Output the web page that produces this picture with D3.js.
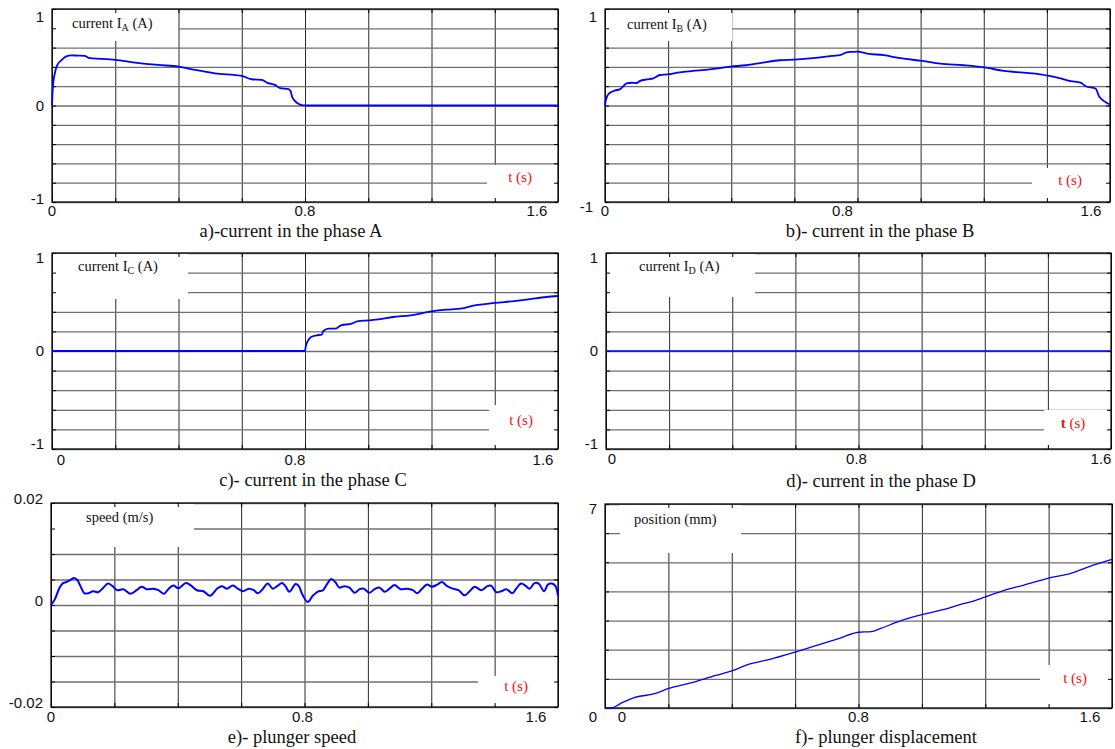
<!DOCTYPE html>
<html>
<head>
<meta charset="utf-8">
<script src="https://cdn.jsdelivr.net/npm/d3@7"></script>
<style>
    body { margin: 0; background: #ffffff; }
    svg { display: block; }
</style>
</head>
<body>
<script>
// 横轴 (时间, s) 网格与刻度标签
const xGrid = [0, 0.2, 0.4, 0.6, 0.8, 1.0, 1.2, 1.4, 1.6];
const xTickLabels = ['0', '0.8', '1.6'];

// 纵轴网格
const currentGrid = [-1, -0.8, -0.6, -0.4, -0.2, 0, 0.2, 0.4, 0.6, 0.8, 1];
const speedGrid = [-0.02, -0.015, -0.01, -0.005, 0, 0.005, 0.01, 0.015, 0.02];
const positionGrid = [0, 1, 2, 3, 4, 5, 6, 7];

// 各相电流 [t, I]
const currentA = [[0, 0], [0.001, 0.09], [0.003, 0.2], [0.008, 0.32], [0.017, 0.42], [0.03, 0.47],
    [0.045, 0.51], [0.061, 0.52], [0.082, 0.517], [0.103, 0.514], [0.119, 0.49], [0.156, 0.483],
    [0.2, 0.472], [0.262, 0.445], [0.336, 0.42], [0.4, 0.403], [0.452, 0.369], [0.515, 0.334],
    [0.6, 0.307], [0.631, 0.272], [0.663, 0.266], [0.684, 0.231], [0.705, 0.214], [0.721, 0.179],
    [0.748, 0.169], [0.755, 0.145], [0.759, 0.093], [0.768, 0.048], [0.779, 0.017], [0.789, 0.003],
    [0.8, 0], [1.6, 0]];
const currentB = [[0, 0], [0.002, 0.045], [0.007, 0.097], [0.016, 0.132], [0.032, 0.156], [0.047, 0.167],
    [0.058, 0.2], [0.068, 0.229], [0.084, 0.236], [0.1, 0.233], [0.11, 0.253], [0.132, 0.27],
    [0.153, 0.281], [0.174, 0.316], [0.198, 0.323], [0.237, 0.344], [0.279, 0.358], [0.332, 0.375],
    [0.398, 0.403], [0.447, 0.417], [0.5, 0.444], [0.553, 0.469], [0.6, 0.476], [0.658, 0.49],
    [0.721, 0.514], [0.747, 0.524], [0.763, 0.549], [0.784, 0.556], [0.8, 0.559], [0.83, 0.538],
    [0.883, 0.521], [0.935, 0.49], [1.006, 0.462], [1.062, 0.434], [1.136, 0.417], [1.207, 0.392],
    [1.263, 0.358], [1.327, 0.34], [1.38, 0.323], [1.408, 0.306], [1.443, 0.281], [1.475, 0.253],
    [1.507, 0.236], [1.523, 0.2], [1.555, 0.174], [1.565, 0.097], [1.581, 0.045], [1.6, 0.01]];
const currentC = [[0, 0], [0.8, 0], [0.802, 0.041], [0.81, 0.109], [0.819, 0.143], [0.836, 0.16],
    [0.853, 0.167], [0.858, 0.204], [0.875, 0.228], [0.897, 0.228], [0.914, 0.262], [0.948, 0.279],
    [0.965, 0.303], [1.0, 0.313], [1.033, 0.323], [1.078, 0.347], [1.134, 0.364], [1.2, 0.405],
    [1.247, 0.422], [1.292, 0.432], [1.337, 0.466], [1.4, 0.49], [1.462, 0.51], [1.506, 0.527],
    [1.563, 0.551], [1.6, 0.561]];
const currentD = [[0, 0], [1.6, 0]];

// 柱塞速度 [t, m/s]
const speedData = [[0, 0], [0.012, 0.0011], [0.027, 0.0034], [0.038, 0.0043], [0.049, 0.0045],
    [0.061, 0.0049], [0.073, 0.0053], [0.083, 0.0049], [0.093, 0.0037], [0.105, 0.0023], [0.117, 0.0023],
    [0.133, 0.0027], [0.149, 0.0025], [0.165, 0.0034], [0.18, 0.0042], [0.194, 0.0037], [0.209, 0.0029],
    [0.228, 0.0031], [0.251, 0.0022], [0.27, 0.0029], [0.286, 0.0036], [0.302, 0.0031], [0.323, 0.0032],
    [0.339, 0.0029], [0.357, 0.0022], [0.37, 0.0031], [0.386, 0.0038], [0.402, 0.0033], [0.426, 0.0043],
    [0.444, 0.0037], [0.46, 0.0029], [0.481, 0.0027], [0.502, 0.0018], [0.524, 0.0032], [0.539, 0.0037],
    [0.555, 0.0032], [0.574, 0.0038], [0.592, 0.0031], [0.606, 0.0027], [0.624, 0.0032], [0.64, 0.0029],
    [0.653, 0.0023], [0.669, 0.0032], [0.684, 0.0042], [0.7, 0.0032], [0.716, 0.0038], [0.729, 0.0043],
    [0.74, 0.0037], [0.752, 0.0026], [0.772, 0.0041], [0.782, 0.0037], [0.793, 0.0021], [0.81, 0.0006],
    [0.826, 0.0018], [0.842, 0.0026], [0.858, 0.0029], [0.872, 0.0042], [0.884, 0.0051], [0.897, 0.0045],
    [0.91, 0.0034], [0.926, 0.0037], [0.942, 0.0034], [0.958, 0.0024], [0.974, 0.0031], [0.987, 0.0032],
    [1.005, 0.0024], [1.021, 0.0031], [1.037, 0.0034], [1.053, 0.0026], [1.068, 0.0032], [1.084, 0.0039],
    [1.103, 0.0031], [1.124, 0.0032], [1.142, 0.0029], [1.156, 0.0023], [1.171, 0.0032], [1.187, 0.004],
    [1.202, 0.0036], [1.219, 0.004], [1.234, 0.0045], [1.25, 0.0037], [1.268, 0.0032], [1.286, 0.0029],
    [1.305, 0.0019], [1.321, 0.0027], [1.337, 0.0036], [1.358, 0.0029], [1.377, 0.0037], [1.389, 0.0038],
    [1.405, 0.0025], [1.421, 0.0027], [1.437, 0.0031], [1.456, 0.0023], [1.468, 0.0032], [1.484, 0.0042],
    [1.497, 0.0038], [1.51, 0.0032], [1.526, 0.0043], [1.539, 0.0042], [1.556, 0.0027], [1.568, 0.004],
    [1.581, 0.0042], [1.592, 0.0037], [1.6, 0.0018]];

// 柱塞位移 [t, mm]
const positionData = [[0, 0], [0.02, 0], [0.05, 0.16], [0.09, 0.35], [0.16, 0.5], [0.2, 0.67],
    [0.27, 0.86], [0.35, 1.12], [0.4, 1.27], [0.45, 1.49], [0.52, 1.67], [0.6, 1.92], [0.66, 2.12],
    [0.74, 2.39], [0.8, 2.6], [0.84, 2.62], [0.87, 2.73], [0.93, 2.98], [1.0, 3.2], [1.07, 3.38],
    [1.12, 3.55], [1.16, 3.66], [1.2, 3.81], [1.26, 4.04], [1.32, 4.21], [1.4, 4.46], [1.47, 4.62],
    [1.53, 4.86], [1.6, 5.1]];

// 面板布局 (位置与样式)
const panels = [
    {
        data: currentA, yDomain: [-1, 1], yGrid: currentGrid, yLabels: ['1', '0', '-1'],
        left: 52, right: 558, top: 9, bottom: 202,
        yLabelDy: [8, 0, -3], yLabelDx: [0, 0, 0], xLabelY: 216, xLabelDx: [0, 0, -21],
        name: ['current I', 'A', ' (A)'], nameBox: [53, 10, 125, 31], namePos: [72, 28],
        tBox: [487, 165, 70, 36], tPos: [520, 182], tBold: false,
        caption: 'a)-current in the phase A', captionPos: [291, 237], width: 1.8
    },
    {
        data: currentB, yDomain: [-1, 1], yGrid: currentGrid, yLabels: ['1', '-1'],
        left: 605, right: 1110, top: 9, bottom: 202,
        yLabelDy: [8, 5], yLabelDx: [0, -4], xLabelY: 216, xLabelDx: [0, -15, -19],
        name: ['current I', 'B', ' (A)'], nameBox: [606, 10, 126, 31], namePos: [627, 29],
        tBox: [1032, 168, 77, 33], tPos: [1070, 185], tBold: false,
        caption: 'b)- current in the phase B', captionPos: [880, 237], width: 1.8
    },
    {
        data: currentC, yDomain: [-1, 1], yGrid: currentGrid, yLabels: ['1', '0', '-1'],
        left: 52, right: 558, top: 253, bottom: 449,
        yLabelDy: [5, 0, -5], yLabelDx: [0, 0, 0], xLabelY: 465, xLabelDx: [9, -10, -15],
        name: ['current I', 'C', ' (A)'], nameBox: [53, 254, 135, 45], namePos: [78, 271],
        tBox: [489, 405, 68, 43], tPos: [521, 425], tBold: false,
        caption: 'c)- current in the phase C', captionPos: [313, 486], width: 1.8
    },
    {
        data: currentD, yDomain: [-1, 1], yGrid: currentGrid, yLabels: ['1', '0', '-1'],
        left: 606, right: 1111, top: 253, bottom: 449,
        yLabelDy: [5, 0, -5], yLabelDx: [0, 0, 0], xLabelY: 464, xLabelDx: [6, -2, -10],
        name: ['current I', 'D', ' (A)'], nameBox: [607, 254, 148, 43], namePos: [639, 271],
        tBox: [1044, 410, 66, 38], tPos: [1073, 428], tBold: true,
        caption: 'd)- current in the phase D', captionPos: [881, 487], width: 1.6
    },
    {
        data: speedData, yDomain: [-0.02, 0.02], yGrid: speedGrid, yLabels: ['0.02', '0', '-0.02'],
        left: 51, right: 558, top: 503, bottom: 707,
        yLabelDy: [-4, -4, -4], yLabelDx: [0, 0, 0], xLabelY: 722, xLabelDx: [0, -2, -22],
        name: ['speed (m/s)', '', ''], nameBox: [52, 504, 142, 43], namePos: [86, 522],
        tBox: [478, 676, 79, 30], tPos: [516, 691], tBold: false,
        caption: 'e)- plunger speed', captionPos: [292, 743], width: 2, smooth: true
    },
    {
        data: positionData, yDomain: [0, 7], yGrid: positionGrid, yLabels: ['7', '0'],
        left: 605, right: 1112, top: 504, bottom: 708,
        yLabelDy: [5, 9], yLabelDx: [0, 0], xLabelY: 722, xLabelDx: [17, 0, -22],
        name: ['position (mm)', '', ''], nameBox: [620, 505, 121, 48], namePos: [634, 524],
        tBox: [1040, 665, 71, 42], tPos: [1075, 683], tBold: false,
        caption: 'f)- plunger displacement', captionPos: [886, 743], width: 1.3
    }
];

const svg = d3.select('body')
    .append('svg')
    .attr('width', 1115)
    .attr('height', 749)
    .style('background', '#ffffff');

const sansFont = "'Liberation Sans', Arial, sans-serif";
const serifFont = "'Liberation Serif', 'Times New Roman', serif";

/**
 * 绘制单个面板
 */
const drawPanel = (p) => {
    const x = d3.scaleLinear().domain([0, 1.6]).range([p.left, p.right]);
    const y = d3.scaleLinear().domain(p.yDomain).range([p.bottom, p.top]);
    const w = p.right - p.left;
    const h = p.bottom - p.top;
    const g = svg.append('g');

    // 竖直网格线
    g.append('g')
        .attr('transform', `translate(0,${p.bottom})`)
        .call(d3.axisBottom(x).tickValues(xGrid).tickSize(-h).tickFormat(''))
        .call(s => s.select('.domain').remove())
        .selectAll('line')
        .attr('stroke', '#2a2a2a')
        .attr('stroke-width', 1);

    // 水平网格线
    g.append('g')
        .attr('transform', `translate(${p.left},0)`)
        .call(d3.axisLeft(y).tickValues(p.yGrid).tickSize(-w).tickFormat(''))
        .call(s => s.select('.domain').remove())
        .selectAll('line')
        .attr('stroke', '#6f6f6f')
        .attr('stroke-width', 1.3);

    // 标签白底
    [p.nameBox, p.tBox].forEach(b => {
        g.append('rect')
            .attr('x', b[0]).attr('y', b[1])
            .attr('width', b[2]).attr('height', b[3])
            .attr('fill', '#ffffff');
    });

    // 边框
    g.append('rect')
        .attr('x', p.left).attr('y', p.top)
        .attr('width', w).attr('height', h)
        .attr('fill', 'none')
        .attr('stroke', '#000000')
        .attr('stroke-width', 1.2);

    // 向内刻度
    const tickAxes = [
        [d3.axisBottom(x).tickValues(xGrid), `translate(0,${p.bottom})`],
        [d3.axisTop(x).tickValues(xGrid), `translate(0,${p.top})`],
        [d3.axisLeft(y).tickValues(p.yGrid), `translate(${p.left},0)`],
        [d3.axisRight(y).tickValues(p.yGrid), `translate(${p.right},0)`]
    ];
    tickAxes.forEach(([axis, tr]) => {
        g.append('g')
            .attr('transform', tr)
            .call(axis.tickSize(-4).tickFormat(''))
            .call(s => s.select('.domain').remove())
            .selectAll('line')
            .attr('stroke', '#000000');
    });

    // 曲线
    const line = d3.line()
        .x(d => x(d[0]))
        .y(d => y(d[1]))
        .curve(p.smooth ? d3.curveCatmullRom.alpha(0.5) : d3.curveMonotoneX);
    g.append('path')
        .datum(p.data)
        .attr('fill', 'none')
        .attr('stroke', '#0000ff')
        .attr('stroke-width', p.width)
        .attr('stroke-linejoin', 'round')
        .attr('d', line);

    // 纵轴标签
    p.yLabels.forEach((lab, i) => {
        g.append('text')
            .attr('x', p.left - 8 + p.yLabelDx[i])
            .attr('y', y(+lab) + p.yLabelDy[i])
            .attr('dy', '0.35em')
            .attr('text-anchor', 'end')
            .style('font-family', sansFont)
            .style('font-size', '15px')
            .attr('fill', '#111111')
            .text(lab);
    });

    // 横轴标签
    xTickLabels.forEach((lab, i) => {
        g.append('text')
            .attr('x', x(+lab) + p.xLabelDx[i])
            .attr('y', p.xLabelY)
            .attr('text-anchor', 'middle')
            .style('font-family', sansFont)
            .style('font-size', '15px')
            .attr('fill', '#111111')
            .text(lab);
    });

    // 纵轴名称
    const nameText = g.append('text')
        .attr('x', p.namePos[0])
        .attr('y', p.namePos[1])
        .style('font-family', serifFont)
        .style('font-size', '14.5px')
        .attr('fill', '#111111');
    nameText.append('tspan').text(p.name[0]);
    if (p.name[1]) {
        nameText.append('tspan')
            .attr('dy', 3)
            .style('font-size', '10px')
            .text(p.name[1]);
        nameText.append('tspan')
            .attr('dy', -3)
            .text(p.name[2]);
    }

    // 时间轴名称
    const tText = g.append('text')
        .attr('x', p.tPos[0])
        .attr('y', p.tPos[1])
        .attr('text-anchor', 'middle')
        .style('font-family', serifFont)
        .style('font-size', '15px')
        .attr('fill', '#ee1111');
    tText.append('tspan')
        .style('font-weight', p.tBold ? 'bold' : 'normal')
        .text('t');
    tText.append('tspan').text(p.tBold ? '  (s)' : ' (s)');

    // 标题
    g.append('text')
        .attr('x', p.captionPos[0])
        .attr('y', p.captionPos[1])
        .attr('text-anchor', 'middle')
        .style('font-family', serifFont)
        .style('font-size', '18.5px')
        .attr('fill', '#111111')
        .text(p.caption);
};

panels.forEach(drawPanel);
</script>
</body>
</html>
